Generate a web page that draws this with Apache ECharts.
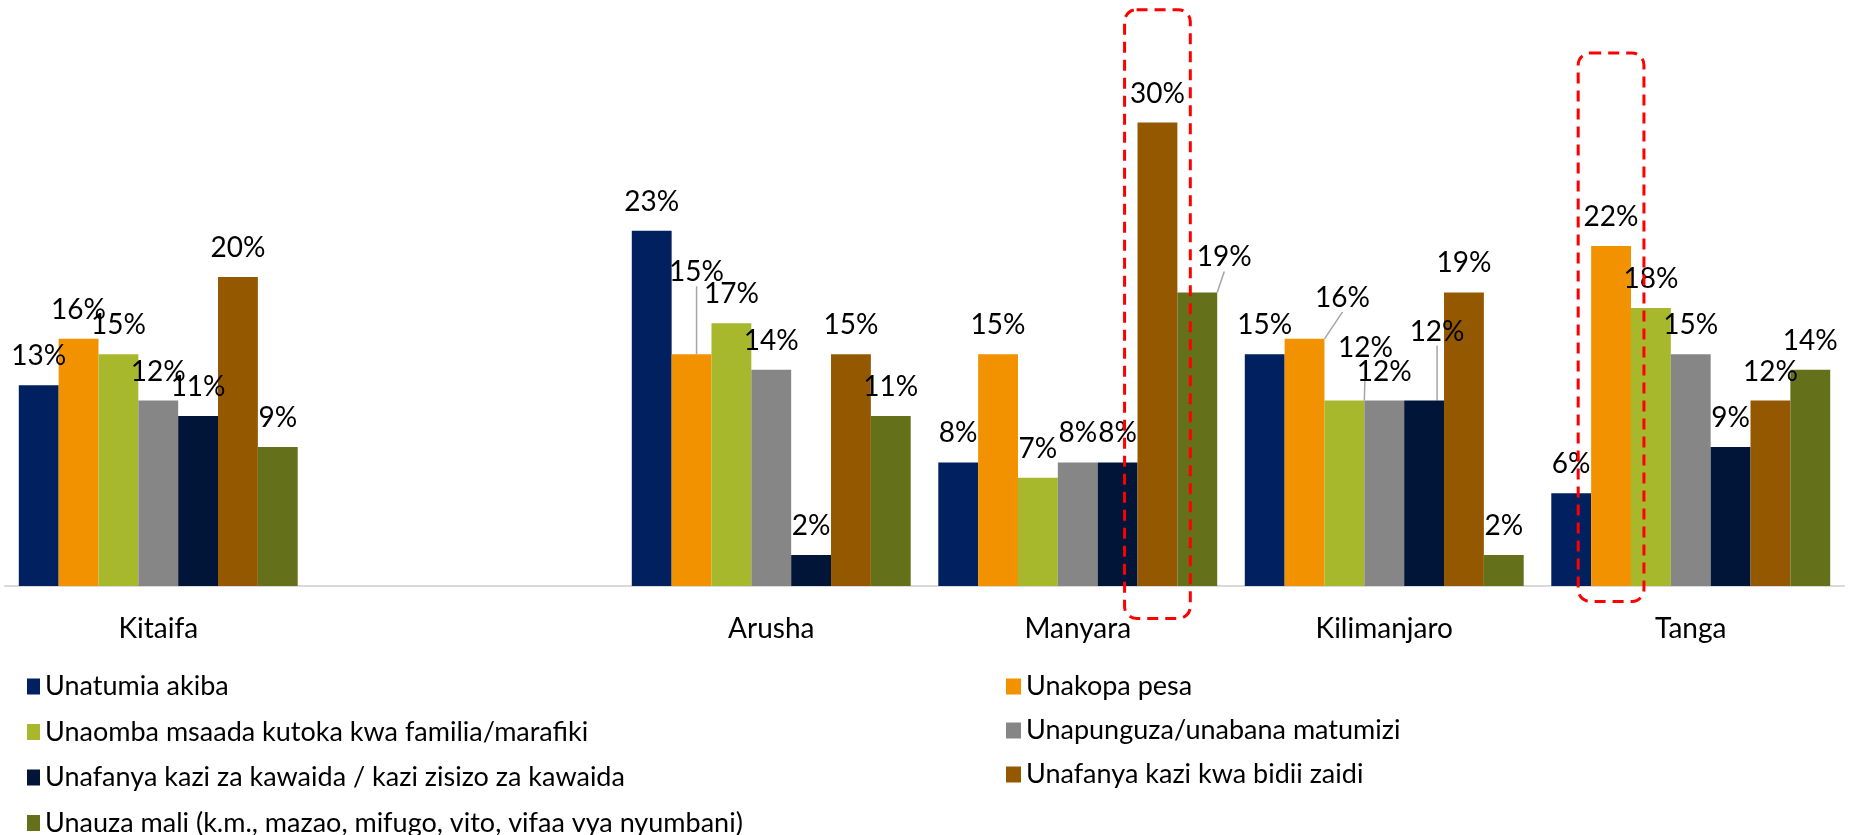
<!DOCTYPE html>
<html>
<head>
<meta charset="utf-8">
<script src="https://cdn.jsdelivr.net/npm/echarts@6/dist/echarts.min.js"></script>
<style>
html, body { margin: 0; padding: 0; background: #fff; }
#chart { width: 1853px; height: 835px; }
</style>
</head>
<body>
<div id="chart"></div>
<script>
var mychart = echarts.init(document.getElementById('chart'));

// regions (the blank one keeps the gap after Kitaifa)
const regions = ['Kitaifa', '', 'Arusha', 'Manyara', 'Kilimanjaro', 'Tanga'];

const names = [
    'Unatumia akiba',
    'Unakopa pesa',
    'Unaomba msaada kutoka kwa familia/marafiki',
    'Unapunguza/unabana matumizi',
    'Unafanya kazi za kawaida / kazi zisizo za kawaida',
    'Unafanya kazi kwa bidii zaidi',
    'Unauza mali (k.m., mazao, mifugo, vito, vifaa vya nyumbani)'
];

// percent values per region
const akiba    = [13, '-', 23,  8, 15,  6];
const kopa     = [16, '-', 15, 15, 16, 22];
const msaada   = [15, '-', 17,  7, 12, 18];
const punguza  = [12, '-', 14,  8, 12, 15];
const kawaida  = [11, '-',  2,  8, 12,  9];
const bidii    = [20, '-', 15, 30, 19, 12];
const uuza     = [ 9, '-', 11, 19,  2, 14];

const colors = ['#002060', '#F39200', '#A8B82C', '#868686', '#011538', '#945800', '#65701A'];

// labels Excel pushed aside (series-dataIndex : dx, dy)
const moved = {
    '1-2': [5, -53],
    '6-3': [27, -6],
    '1-4': [38, -12],
    '2-4': [21, -24],
    '4-4': [13, -40]
};

// dashed boxes: region, series, value range
const boxes = [
    {region: 'Manyara', series: 5, from: -2.1, to: 37.3},
    {region: 'Tanga', series: 1, from: -1.0, to: 34.5}
];

const values = [akiba, kopa, msaada, punguza, kawaida, bidii, uuza];
const gapRatio = 0.09;

var series = values.map(function (arr, si) {
    return {
        name: names[si],
        type: 'bar',
        barGap: 0,
        barCategoryGap: (gapRatio * 100) + '%',
        itemStyle: { color: colors[si] },
        label: {
            show: true,
            position: 'top',
            distance: 15,
            formatter: '{c}%',
            fontFamily: 'Lato',
            fontSize: 28,
            color: '#000'
        },
        labelLayout: function (p) {
            var m = moved[p.seriesIndex + '-' + p.dataIndex];
            return m ? { dx: m[0], dy: m[1] } : {};
        },
        data: arr.map(function (v, di) {
            if (moved[si + '-' + di]) {
                return { value: v, labelLine: { show: true, lineStyle: { color: '#A6A6A6', width: 1.5 } } };
            }
            return v;
        })
    };
});

var legendText = { fontFamily: 'Lato', fontSize: 27, color: '#000', lineHeight: 22 };

option = {
    backgroundColor: '#fff',
    animation: false,
    grid: { left: 5, right: 9, top: 122.5, bottom: 249, containLabel: false },
    legend: [
        {
            orient: 'vertical',
            left: 27,
            top: 673,
            height: 400,
            padding: 0,
            itemGap: 18.5,
            itemWidth: 13,
            itemHeight: 16,
            icon: 'rect',
            textStyle: legendText,
            data: [names[0], names[2], names[4], names[6]]
        },
        {
            orient: 'vertical',
            left: 1006,
            top: 673,
            height: 400,
            padding: 0,
            itemGap: 17,
            itemWidth: 15,
            itemHeight: 16,
            icon: 'rect',
            textStyle: legendText,
            data: [names[1], names[3], names[5]]
        }
    ],
    xAxis: {
        type: 'category',
        data: regions,
        axisLine: { lineStyle: { color: '#D9D9D9', width: 2 } },
        axisTick: { show: false },
        axisLabel: { margin: 29, fontFamily: 'Lato', fontSize: 28, color: '#000' }
    },
    yAxis: {
        type: 'value',
        min: 0,
        max: 30,
        show: false
    },
    series: series
};
mychart.setOption(option, true);

// red dashed highlight boxes placed on the bars
var c0 = mychart.convertToPixel({ gridIndex: 0 }, [0, 0]);
var c1 = mychart.convertToPixel({ gridIndex: 0 }, [1, 0]);
var band = c1[0] - c0[0];
var used = band * (1 - gapRatio);
var barW = used / values.length;
var graphics = boxes.map(function (b) {
    var ci = regions.indexOf(b.region);
    var top = mychart.convertToPixel({ gridIndex: 0 }, [ci, b.to]);
    var bot = mychart.convertToPixel({ gridIndex: 0 }, [ci, b.from]);
    var cx = top[0] - used / 2 + barW * (b.series + 0.5);
    var w = barW * 1.65;
    return {
        type: 'rect',
        z: 100,
        shape: { x: cx - w / 2, y: top[1], width: w, height: bot[1] - top[1], r: 12 },
        style: { fill: 'none', stroke: '#FF0000', lineWidth: 3, lineDash: [11, 7] }
    };
});
mychart.setOption({ graphic: graphics });
</script>
</body>
</html>
